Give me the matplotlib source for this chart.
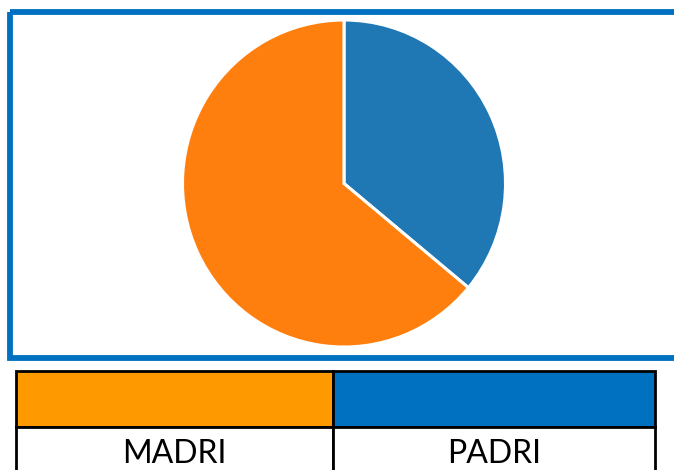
import matplotlib
matplotlib.use("Agg")
import matplotlib.pyplot as plt
from matplotlib.patches import Rectangle

# data
labels = ["PADRI", "MADRI"]
values = [36, 64]
pie_colors = ["#1f77b4", "#ff7f0e"]
legend_labels = ["MADRI", "PADRI"]
legend_colors = ["#FF9900", "#0070C0"]

W, H = 674, 470
fig = plt.figure(figsize=(W / 100, H / 100), dpi=100)

# background layer in pixel coordinates
bg = fig.add_axes([0, 0, 1, 1])
bg.set_xlim(0, W)
bg.set_ylim(H, 0)
bg.axis("off")

# blue frame around the pie
bg.add_patch(Rectangle((10, 12), 700, 346, fill=False,
                       edgecolor="#0070C0", linewidth=4.2))

# legend table
x0, x1, x2 = 16, 333, 655
y0, y1, y2 = 371, 427, 480
xs = [x0, x1]
ws = [x1 - x0, x2 - x1]
for x, w, c, t in zip(xs, ws, legend_colors, legend_labels):
    bg.add_patch(Rectangle((x, y0), w, y1 - y0, facecolor=c,
                           edgecolor="black", linewidth=2))
    bg.add_patch(Rectangle((x, y1), w, y2 - y1, facecolor="white",
                           edgecolor="black", linewidth=2))
    bg.text(x + w / 2, 463, t, ha="center", va="baseline",
            fontsize=23, family="Lato", color="black")

# pie
ax = fig.add_axes([182.5 / W, (H - 347) / H, 323 / W, 327 / H])
ax.pie(values, colors=pie_colors, startangle=90, counterclock=False,
       wedgeprops=dict(edgecolor="white", linewidth=2.2))
ax.set_aspect("auto")
ax.set_xlim(-1, 1)
ax.set_ylim(-1, 1)
ax.axis("off")

fig.savefig("out.png", dpi=100)
